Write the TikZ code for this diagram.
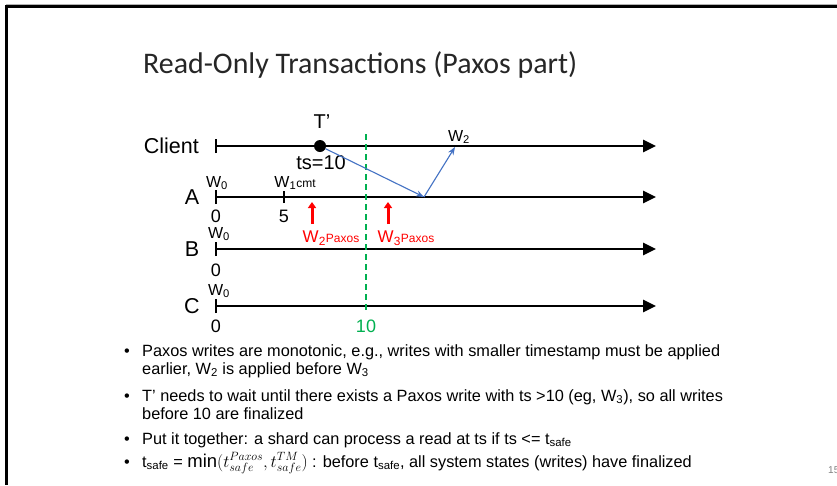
\documentclass[tikz,border=0pt]{standalone}
\usepackage{fontspec}
\setmainfont{Liberation Sans}
\newfontfamily\titlefont{Carlito}
\usetikzlibrary{arrows.meta}
\definecolor{tlgreen}{HTML}{00B050}
\definecolor{tlblue}{HTML}{4472C4}
\definecolor{tlred}{HTML}{FF0000}
\newcommand{\Wsub}[1]{W\textsubscript{#1}}
\begin{document}
\begin{tikzpicture}[x=1pt,y=-1pt,
  timeline/.style={line width=2.6pt,-{Triangle[length=13pt,width=12pt]}},
  tickmark/.style={line width=2.4pt},
  proc/.style={font=\fontsize{21.5}{21.5}\selectfont,inner sep=0},
  wlbl/.style={font=\fontsize{16}{16}\selectfont,inner sep=0},
  num/.style={font=\fontsize{18}{18}\selectfont,inner sep=0},
  msg/.style={tlblue,line width=1.1pt,-{Stealth[length=8pt,width=6pt]}},
  paxarrow/.style={tlred,line width=3pt,-{Triangle[length=6pt,width=8pt]}},
  bullet/.style={font=\fontsize{16.3}{18}\selectfont,inner sep=0,anchor=base west,align=left},
  dot/.style={font=\fontsize{16.3}{18}\selectfont,inner sep=0,anchor=base}]
\useasboundingbox (0,0) rectangle (837,485);
\fill[white] (0,0) rectangle (837,485);
% frame
\draw[gray!60,line width=1pt] (6,4) -- (837,4);
\draw[line width=3pt] (837,6) -- (6.5,6) -- (6.5,485);
% title
\node[inner sep=0,anchor=base west,text=black!85,font=\titlefont\fontsize{29.9}{29.9}\selectfont] (title) at (143,73) {Read-Only Transactions (Paxos part)};
% timelines
\coordinate (cs) at (216,146); \coordinate (ce) at (656,146);
\coordinate (as) at (216,197); \coordinate (ae) at (656,197);
\coordinate (bs) at (216,249); \coordinate (be) at (656,249);
\coordinate (ks) at (216,306); \coordinate (ke) at (656,306);
\foreach \s/\e in {cs/ce,as/ae,bs/be,ks/ke}{
  \draw[timeline] (\s) -- (\e);
  \draw[tickmark] ([yshift=-7pt]\s) -- ([yshift=7pt]\s);
}
\coordinate (a5) at (284,197);
\draw[tickmark] ([yshift=-6pt]a5) -- ([yshift=6pt]a5);
% process labels
\node[proc,anchor=east] (client) at (199,146) {Client};
\node[proc] (la) at (192,197) {A};
\node[proc] (lb) at (192,249) {B};
\node[proc] (lc) at (192,306) {C};
% T'
\node[circle,fill=black,minimum size=12pt,inner sep=0] (tdot) at (320,146) {};
\node[num,font=\fontsize{20}{20}\selectfont] (tp) at (322,122) {T’};
\node[num,font=\fontsize{20}{20}\selectfont] (ts) at (321,163) {ts=10};
% labels on A
\node[wlbl] (aw0) at (217,183) {\Wsub{0}};
\node[wlbl] (aw1) at (295,183) {W\textsubscript{1}{\fontsize{12}{12}\selectfont cmt}};
\node[num] (a0) at (216,216) {0};
\node[num] (a5l) at (284,216) {5};
% B
\node[wlbl] (bw0) at (219,234) {\Wsub{0}};
\node[num] (b0) at (216,270) {0};
% C
\node[wlbl] (cw0) at (219,291) {\Wsub{0}};
\node[num] (c0) at (216,326) {0};
% green dashed line
\coordinate (gt) at (366,134); \coordinate (gb) at (366,313);
\draw[tlgreen,line width=2pt,dash pattern=on 6pt off 4pt] (gt) -- (gb);
\node[num,text=tlgreen] (g10) at (366,326) {10};
% red paxos arrows
\coordinate (p2s) at (312,224); \coordinate (p2e) at (312,202);
\coordinate (p3s) at (388,224); \coordinate (p3e) at (388,202);
\draw[paxarrow] (p2s) -- (p2e);
\draw[paxarrow] (p3s) -- (p3e);
\node[wlbl,text=tlred,font=\fontsize{17}{17}\selectfont] (w2p) at (331,238) {W\textsubscript{2}{\fontsize{12}{12}\selectfont Paxos}};
\node[wlbl,text=tlred,font=\fontsize{17}{17}\selectfont] (w3p) at (406,238) {W\textsubscript{3}{\fontsize{12}{12}\selectfont Paxos}};
% blue messages
\coordinate (aw) at (424,197);
\coordinate (cw) at (455,147);
\draw[msg] (tdot) -- (aw);
\draw[msg] (aw) -- (cw);
\node[wlbl] (w2) at (459,137) {\Wsub{2}};
% bullets
\node[dot] (d1) at (127,356) {\textbullet};
\node[bullet] (b1) at (142,374) {Paxos writes are monotonic, e.g., writes with smaller timestamp must be applied\\earlier, \Wsub{2} is applied before \Wsub{3}};
\node[dot] (d2) at (127,401) {\textbullet};
\node[bullet] (b2) at (142,419) {T’ needs to wait until there exists a Paxos write with ts >10 (eg, \Wsub{3}), so all writes\\before 10 are finalized};
\node[dot] (d3) at (127,444) {\textbullet};
\node[bullet] (b3) at (142,444) {Put it together: a shard can process a read at ts if ts <= t\textsubscript{safe}};
\node[dot] (d4) at (127,467) {\textbullet};
\node[bullet] (b4) at (142,467) {t\textsubscript{safe} = {\fontsize{18.5}{18}\selectfont$\min(t^{Paxos}_{safe},t^{TM}_{safe})$} : before t\textsubscript{safe}, all system states (writes) have finalized};
\node[inner sep=0,anchor=base west,text=gray,font=\fontsize{10}{10}\selectfont] (pg) at (828,473) {15};
\end{tikzpicture}
\end{document}
